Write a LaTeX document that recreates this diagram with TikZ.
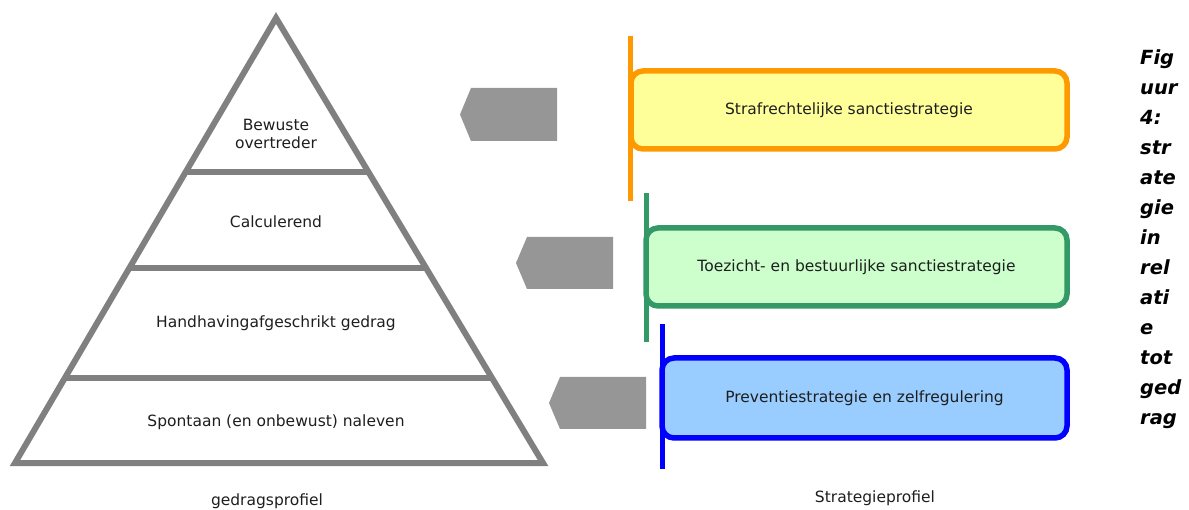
\documentclass[tikz,border=0pt]{standalone}
\usepackage{fontspec}
\setmainfont{DejaVu Sans}
\usetikzlibrary{calc}
\definecolor{pyrgray}{RGB}{128,128,128}
\definecolor{arrgray}{RGB}{150,150,150}
\definecolor{orstroke}{RGB}{255,153,0}
\definecolor{orfill}{RGB}{255,255,153}
\definecolor{grstroke}{RGB}{51,153,102}
\definecolor{grfill}{RGB}{204,255,204}
\definecolor{blstroke}{RGB}{0,0,255}
\definecolor{blfill}{RGB}{153,204,255}
\definecolor{txt}{RGB}{30,30,30}
\tikzset{
  pyr/.style={draw=pyrgray, line width=6pt, line join=miter},
  lbl/.style={font=\fontsize{15.5}{18}\selectfont, text=txt, align=center, inner sep=0pt},
  strat/.style={rounded corners=12pt, line width=5.5pt, inner sep=0pt,
     font=\fontsize{15.5}{18}\selectfont, text=txt},
  bar/.style={line width=5pt},
  garrow/.style={fill=arrgray, draw=none},
  figcaption/.style={font=\fontsize{19.5}{30}\selectfont\bfseries\itshape, align=left, anchor=north west, inner sep=0pt}
}
\begin{document}
\begin{tikzpicture}[x=1pt,y=-1pt]
\useasboundingbox (0,0) rectangle (1189,510);
% pyramid
\coordinate (apex) at (276,18);
\coordinate (bl) at (15,463);
\coordinate (br) at (543,463);
\draw[pyr] (apex) -- (bl) -- (br) -- cycle;
\foreach \t/\n in {0.346/a,0.5618/b,0.809/c}{
  \coordinate (l\n) at ($(apex)!\t!(bl)$);
  \coordinate (r\n) at ($(apex)!\t!(br)$);
  \draw[pyr] (l\n) -- (r\n);
}
\node[lbl] (p1) at (276,134) {Bewuste\\overtreder};
\node[lbl] (p2) at (276,222) {Calculerend};
\node[lbl] (p3) at (276,323) {Handhavingafgeschrikt gedrag};
\node[lbl] (p4) at (276,422) {Spontaan (en onbewust) naleven};
\node[lbl] (gp) at (267,501) {gedragsprofiel};
\node[lbl] (sp) at (875,498) {Strategieprofiel};
% gray arrows
\fill[garrow] (557,88) -- (471,88) -- (460,114.5) -- (471,141) -- (557,141) -- cycle;
\fill[garrow] (613,237) -- (527,237) -- (516,263) -- (527,289) -- (613,289) -- cycle;
\fill[garrow] (646,377) -- (560,377) -- (549,403) -- (560,429) -- (646,429) -- cycle;
% strategy boxes
\node[strat, draw=orstroke, fill=orfill, minimum width=436pt, minimum height=78pt] (s1) at (849,110) {Strafrechtelijke sanctiestrategie};
\draw[bar, draw=orstroke] (630,36) coordinate (o1) -- (630,201) coordinate (o2);
\node[strat, draw=grstroke, fill=grfill, minimum width=421pt, minimum height=78pt] (s2) at (856.5,267) {Toezicht- en bestuurlijke sanctiestrategie};
\draw[bar, draw=grstroke] (646,193) coordinate (g1) -- (646,342) coordinate (g2);
\node[strat, draw=blstroke, fill=blfill, minimum width=405pt, minimum height=80pt] (s3) at (864.5,398) {Preventiestrategie en zelfregulering};
\draw[bar, draw=blstroke] (662,324) coordinate (b1) -- (662,469) coordinate (b2);
% caption
\node[figcaption] (fig) at (1140,49) {Fig\\uur\\4:\\str\\ate\\gie\\in\\rel\\ati\\e\\tot\\ged\\rag};
\end{tikzpicture}
\end{document}
